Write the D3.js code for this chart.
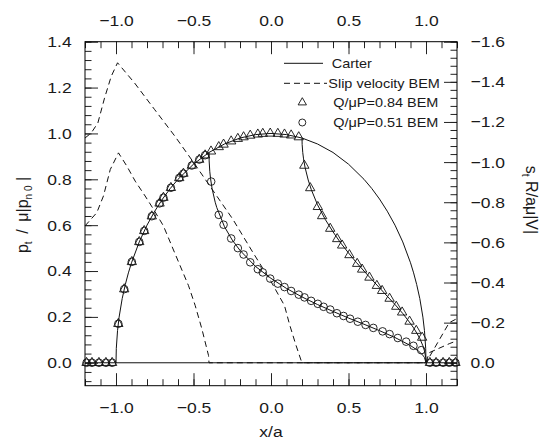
<!DOCTYPE html>
<html>
<head>
<meta charset="utf-8">
<script src="https://cdn.jsdelivr.net/npm/d3@7"></script>
<style>
  body { margin: 0; background: #fff; }
  svg text { font-family: "Liberation Sans", Arial, sans-serif; fill: #1a1a1a; }
</style>
</head>
<body>
<svg id="chart"></svg>
<script>
// ---- data: [x/a, value] ----

// Carter analytic traction (left axis)
const carterFull = [[-1,0],[-0.998,0.063],[-0.99,0.141],[-0.98,0.199],[-0.96,0.28],[-0.94,0.341],[-0.92,0.392],[-0.9,0.436],
  [-0.85,0.527],[-0.8,0.6],[-0.75,0.661],[-0.7,0.714],[-0.65,0.76],[-0.6,0.8],[-0.5,0.866],[-0.4,0.917],[-0.3,0.954],
  [-0.2,0.98],[-0.1,0.995],[0,1],[0.1,0.995],[0.2,0.98],[0.3,0.954],[0.4,0.917],[0.5,0.866],[0.6,0.8],[0.65,0.76],
  [0.7,0.714],[0.75,0.661],[0.8,0.6],[0.85,0.527],[0.9,0.436],[0.92,0.392],[0.94,0.341],[0.96,0.28],[0.98,0.199],
  [0.99,0.141],[0.998,0.063],[1,0]];
const carter084 = [[0.2,0.98],[0.201,0.952],[0.205,0.916],[0.21,0.889],[0.22,0.851],[0.24,0.797],[0.26,0.755],[0.3,0.689],
  [0.35,0.625],[0.4,0.571],[0.45,0.522],[0.5,0.479],[0.55,0.438],[0.6,0.4],[0.65,0.363],[0.7,0.327],[0.75,0.29],
  [0.8,0.254],[0.85,0.215],[0.9,0.171],[0.92,0.152],[0.94,0.13],[0.96,0.106],[0.98,0.074],[0.99,0.052],[0.998,0.023],[1,0]];
const carter051 = [[-0.4,0.917],[-0.399,0.88],[-0.395,0.835],[-0.39,0.803],[-0.38,0.759],[-0.36,0.7],[-0.35,0.677],
  [-0.3,0.593],[-0.25,0.535],[-0.2,0.49],[-0.1,0.42],[0,0.368],[0.1,0.324],[0.2,0.287],[0.3,0.254],[0.4,0.224],
  [0.5,0.195],[0.6,0.168],[0.7,0.14],[0.8,0.11],[0.9,0.075],[0.95,0.052],[0.98,0.033],[0.99,0.023],[1,0]];
const carterZero = [[-1.2,0],[1.2,0]];

// BEM traction, Q/muP = 0.84 (triangles, left axis)
const bem084 = [[-1.19,0],[-1.155,0],[-1.11,0],[-1.065,0],[-1.025,0],
  [-0.985,0.17],[-0.947,0.321],[-0.898,0.44],[-0.85,0.527],[-0.818,0.575],[-0.769,0.639],[-0.719,0.695],[-0.694,0.72],
  [-0.646,0.763],[-0.592,0.806],[-0.565,0.825],[-0.511,0.86],[-0.463,0.886],[-0.425,0.905],[-0.387,0.922],[-0.337,0.941],
  [-0.306,0.952],[-0.257,0.966],[-0.214,0.977],[-0.177,0.984],[-0.134,0.991],[-0.085,0.996],[-0.053,0.999],[-0.005,1.0],
  [0.044,0.999],[0.087,0.996],[0.13,0.992],[0.179,0.984],
  [0.215,0.86],[0.253,0.762],[0.302,0.68],[0.33,0.64],[0.382,0.585],[0.427,0.54],[0.459,0.512],[0.506,0.47],[0.556,0.432],
  [0.588,0.407],[0.635,0.372],[0.683,0.336],[0.717,0.314],[0.765,0.28],[0.808,0.245],[0.846,0.22],[0.894,0.18],
  [0.937,0.14],[0.975,0.11],
  [1.025,0],[1.065,0],[1.11,0],[1.15,0],[1.19,0]];

// BEM traction, Q/muP = 0.51 (circles, left axis)
const bem051 = [[-1.19,0],[-1.155,0],[-1.11,0],[-1.065,0],[-1.025,0],
  [-0.985,0.17],[-0.947,0.321],[-0.898,0.44],[-0.85,0.527],[-0.818,0.575],[-0.769,0.639],[-0.719,0.695],[-0.694,0.72],
  [-0.646,0.763],[-0.592,0.806],[-0.565,0.825],[-0.511,0.86],[-0.463,0.886],[-0.425,0.905],
  [-0.386,0.79],[-0.337,0.645],[-0.306,0.602],[-0.257,0.542],[-0.214,0.5],[-0.177,0.472],[-0.134,0.438],[-0.085,0.408],
  [-0.053,0.394],[-0.005,0.367],[0.044,0.345],[0.087,0.33],[0.13,0.313],[0.179,0.297],[0.216,0.285],[0.259,0.27],
  [0.302,0.257],[0.339,0.244],[0.382,0.232],[0.425,0.216],[0.468,0.204],[0.51,0.192],[0.56,0.179],[0.61,0.165],
  [0.66,0.152],[0.72,0.137],[0.765,0.125],[0.818,0.108],[0.872,0.092],[0.919,0.074],[0.969,0.055],
  [1.025,0],[1.065,0],[1.11,0],[1.15,0],[1.19,0]];

// BEM slip velocity (right axis)
const slip084 = [[-1.2,-1.12],[-1.16,-1.145],[-1.117,-1.195],[-1.074,-1.319],[-1.031,-1.427],[-0.99,-1.495],
  [-0.88,-1.394],[-0.75,-1.261],[-0.62,-1.129],[-0.49,-0.988],[-0.35,-0.831],[-0.246,-0.715],[-0.117,-0.55],
  [0,-0.405],[0.087,-0.285],[0.12,-0.19],[0.16,-0.09],[0.195,-0.01],[0.2,0],[1.0,0],[1.15,-0.2],[1.2,-0.22]];
const slip051 = [[-1.2,-0.682],[-1.124,-0.748],[-1.081,-0.831],[-1.037,-0.963],[-0.984,-1.046],[-0.93,-0.98],
  [-0.876,-0.905],[-0.812,-0.831],[-0.758,-0.765],[-0.694,-0.682],[-0.64,-0.582],[-0.586,-0.483],[-0.532,-0.384],
  [-0.489,-0.285],[-0.446,-0.169],[-0.403,-0.036],[-0.4,0],[1.0,0],[1.02,-0.05],[1.15,-0.095],[1.2,-0.11]];

// ticks
const xTicks = [-1.0, -0.5, 0.0, 0.5, 1.0];
const yLeftTicks = [0.0, 0.2, 0.4, 0.6, 0.8, 1.0, 1.2, 1.4];
const yRightTicks = [0.0, -0.2, -0.4, -0.6, -0.8, -1.0, -1.2, -1.4, -1.6];
const legendLabels = ["Carter", "Slip velocity BEM", "Q/\u03bcP=0.84 BEM", "Q/\u03bcP=0.51 BEM"];

// ---- layout ----
const W = 545, H = 441;
const mLeft = 85, mRight = 457, mTop = 41.7, mBottom = 385.7;
const stretch = "scale(1.13,1)"; // the figure's lettering is a bit wide
const fs = 15.5;

const svg = d3.select("#chart").attr("width", W).attr("height", H);

const x = d3.scaleLinear().domain([-1.2, 1.2]).range([mLeft, mRight]);
const yL = d3.scaleLinear().domain([-0.1, 1.4]).range([mBottom, mTop]);
// right axis shares the zero line and the top edge
const yR = d3.scaleLinear().domain([0, -1.6]).range([yL(0), yL(1.4)]);

const fmt = d3.format(".1f");
const rnd = v => Math.round(v * 1000) / 1000;
const xMinor = d3.range(-12, 13).map(i => rnd(i * 0.1));
const yLMinor = d3.range(-2, 36).map(i => rnd(i * 0.04));
const yRMinor = d3.range(-40, 3).map(i => rnd(i * 0.04));

function tidy(g) {
  g.select(".domain").remove();
  g.attr("font-family", null).attr("font-size", fs);
  g.selectAll("line").attr("stroke", "#222").attr("stroke-width", 1);
  g.selectAll("text").attr("fill", "#1a1a1a").attr("transform", stretch);
}

// minor ticks (inward)
svg.append("g").attr("transform", `translate(0,${mBottom})`)
  .call(d3.axisBottom(x).tickValues(xMinor).tickSize(-6.5).tickFormat("")).call(tidy);
svg.append("g").attr("transform", `translate(0,${mTop})`)
  .call(d3.axisTop(x).tickValues(xMinor).tickSize(-6.5).tickFormat("")).call(tidy);
svg.append("g").attr("transform", `translate(${mLeft},0)`)
  .call(d3.axisLeft(yL).tickValues(yLMinor).tickSize(-6.5).tickFormat("")).call(tidy);
svg.append("g").attr("transform", `translate(${mRight},0)`)
  .call(d3.axisRight(yR).tickValues(yRMinor).tickSize(-6.5).tickFormat("")).call(tidy);

// major ticks + labels
svg.append("g").attr("transform", `translate(0,${mBottom})`)
  .call(d3.axisBottom(x).tickValues(xTicks).tickSize(-12.5).tickPadding(16).tickFormat(fmt)).call(tidy);
svg.append("g").attr("transform", `translate(0,${mTop})`)
  .call(d3.axisTop(x).tickValues(xTicks).tickSize(-12.5).tickPadding(15.7).tickFormat(fmt)).call(tidy);
svg.append("g").attr("transform", `translate(${mLeft},0)`)
  .call(d3.axisLeft(yL).tickValues(yLeftTicks).tickSize(-13).tickPadding(11.8).tickFormat(fmt)).call(tidy);
svg.append("g").attr("transform", `translate(${mRight},0)`)
  .call(d3.axisRight(yR).tickValues(yRightTicks).tickSize(-13).tickPadding(11.9).tickFormat(fmt)).call(tidy);

// frame
svg.append("rect")
  .attr("x", mLeft).attr("y", mTop)
  .attr("width", mRight - mLeft).attr("height", mBottom - mTop)
  .attr("fill", "none").attr("stroke", "#000").attr("stroke-width", 1);

// lines
const lineL = d3.line().x(d => x(d[0])).y(d => yL(d[1]));
const lineR = d3.line().x(d => x(d[0])).y(d => yR(d[1]));

[carterZero, carterFull, carter084, carter051].forEach(s => {
  svg.append("path").attr("d", lineL(s))
    .attr("fill", "none").attr("stroke", "#111").attr("stroke-width", 1);
});
[slip084, slip051].forEach(s => {
  svg.append("path").attr("d", lineR(s))
    .attr("fill", "none").attr("stroke", "#111").attr("stroke-width", 1)
    .attr("stroke-dasharray", "6,4");
});

// markers
const tri = d3.symbol(d3.symbolTriangle, 38);
svg.append("g").selectAll("path").data(bem084).enter().append("path")
  .attr("d", tri)
  .attr("transform", d => `translate(${x(d[0])},${yL(d[1])})`)
  .attr("fill", "none").attr("stroke", "#111").attr("stroke-width", 0.9);
svg.append("g").selectAll("circle").data(bem051).enter().append("circle")
  .attr("cx", d => x(d[0])).attr("cy", d => yL(d[1])).attr("r", 3.8)
  .attr("fill", "none").attr("stroke", "#111").attr("stroke-width", 0.9);

// legend
const lg = svg.append("g");
lg.append("line").attr("x1", 284).attr("x2", 323).attr("y1", 63.3).attr("y2", 63.3)
  .attr("stroke", "#111").attr("stroke-width", 1);
lg.append("line").attr("x1", 284).attr("x2", 327).attr("y1", 83.3).attr("y2", 83.3)
  .attr("stroke", "#111").attr("stroke-width", 1).attr("stroke-dasharray", "6,4");
lg.append("path").attr("d", d3.symbol(d3.symbolTriangle, 30)())
  .attr("transform", "translate(302.3,102.5)")
  .attr("fill", "none").attr("stroke", "#111").attr("stroke-width", 0.9);
lg.append("circle").attr("cx", 302.3).attr("cy", 122.5).attr("r", 3.5)
  .attr("fill", "none").attr("stroke", "#111").attr("stroke-width", 0.9);
const legPos = [[331.7, 68], [328.3, 88], [333.3, 107], [333.3, 126.5]];
legendLabels.forEach((t, i) => {
  lg.append("text").attr("transform", `translate(${legPos[i][0]},${legPos[i][1]}) ${stretch}`)
    .attr("font-size", 12.8).text(t);
});

// axis titles
svg.append("text").attr("transform", `translate(271,437) ${stretch}`)
  .attr("text-anchor", "middle").attr("font-size", fs).text("x/a");

const yt = svg.append("text").attr("transform", "translate(28,215) rotate(-90)")
  .attr("text-anchor", "middle").attr("font-size", 16);
yt.append("tspan").text("p");
yt.append("tspan").attr("dy", 4).attr("font-size", 10).text("t");
yt.append("tspan").attr("dy", -4).text(" \u2009/\u2009 \u03bc|p");
yt.append("tspan").attr("dy", 4).attr("font-size", 10).text("n 0");
yt.append("tspan").attr("dy", -4).text(" |");

const rt = svg.append("text").attr("transform", "translate(526,200) rotate(90)")
  .attr("text-anchor", "middle").attr("font-size", 16);
rt.append("tspan").text("s");
rt.append("tspan").attr("dy", 4).attr("font-size", 10).text("t");
rt.append("tspan").attr("dy", -4).text(" R/a\u03bc|V|");
</script>
</body>
</html>
